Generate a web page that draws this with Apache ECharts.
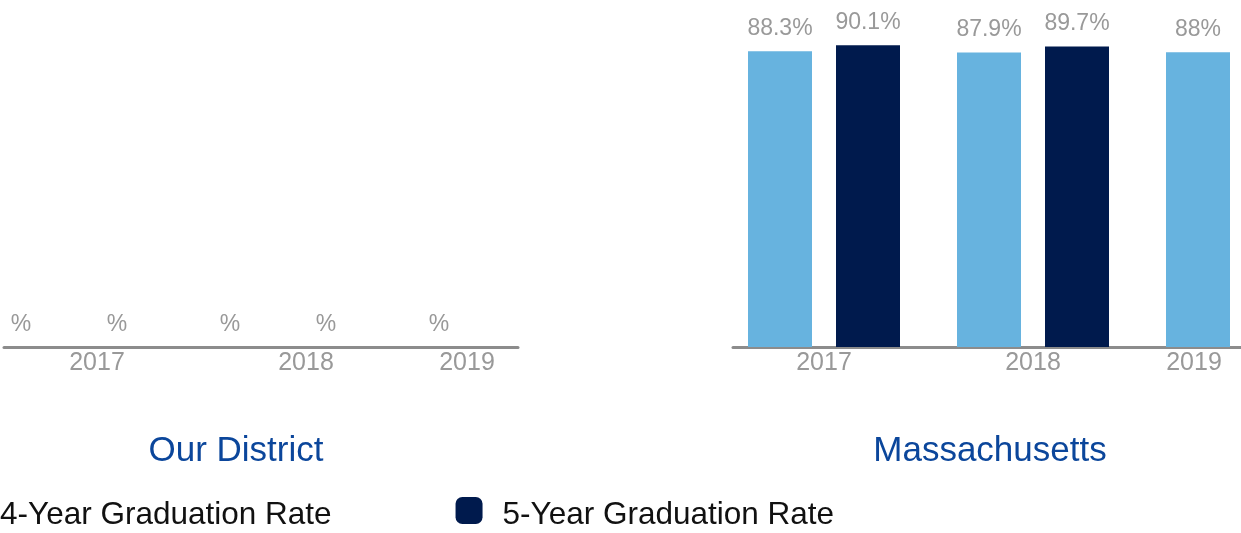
<!DOCTYPE html>
<html>
<head>
<meta charset="utf-8">
<style>html,body{margin:0;padding:0;background:#fff;}#chart{width:1241px;height:533px;}</style>
<script src="https://cdn.jsdelivr.net/npm/echarts@6/dist/echarts.min.js"></script>
</head>
<body>
<div id="chart"></div>
<script>
const years = ['2017', '2018', '2019'];
const seriesNames = ['4-Year Graduation Rate', '5-Year Graduation Rate'];
const chartTitles = ['Our District', 'Massachusetts'];
// '' = reported blank (drawn as "%"), null = not reported
const districtFourYear = ['', '', ''];
const districtFiveYear = ['', '', null];
const stateFourYear = [88.3, 87.9, 88];
const stateFiveYear = [90.1, 89.7, null];

const FONT = "'Liberation Sans', Arial, Helvetica, sans-serif";
const colors = ['#67b3df', '#001a4d'];

function toData(arr) {
  return arr.map(v => (v === null ? '-' : (v === '' ? 0 : v)));
}
function labelFmt(arr) {
  return p => {
    const raw = arr[p.dataIndex];
    return raw === null ? '' : raw + '%';
  };
}
function barSeries(idx, arr, gridIdx, offsetX) {
  return {
    type: 'bar',
    name: seriesNames[idx],
    xAxisIndex: gridIdx,
    yAxisIndex: gridIdx,
    data: toData(arr),
    barWidth: 64,
    barGap: '37.5%',
    itemStyle: { color: colors[idx] },
    label: {
      show: true,
      position: 'top',
      distance: 11,
      offset: [offsetX, 0],
      formatter: labelFmt(arr),
      color: '#999999',
      fontSize: 23,
      fontFamily: FONT
    }
  };
}
function dataXAxis(gridIdx) {
  return {
    type: 'category',
    gridIndex: gridIdx,
    data: years,
    axisLine: { show: false },
    axisTick: { show: false },
    axisLabel: {
      margin: 4,
      color: '#999999',
      fontSize: 25,
      fontFamily: FONT,
      formatter: (v, i) => (i === years.length - 1 ? '{last|' + v + '}' : v),
      rich: { last: { padding: [0, 96, 0, 0], color: '#999999', fontSize: 25, fontFamily: FONT } }
    }
  };
}
function lineXAxis(gridIdx) {
  return {
    type: 'category',
    gridIndex: gridIdx,
    data: [],
    axisLine: { show: true, lineStyle: { color: '#8c8c8c', width: 3 } },
    axisTick: { show: false },
    axisLabel: { show: false }
  };
}
function hiddenY(gridIdx) {
  return { type: 'value', gridIndex: gridIdx, min: 0, max: 100, show: false, splitLine: { show: false } };
}

const option = {
  animation: false,
  textStyle: { fontFamily: FONT },
  title: [
    { text: chartTitles[0], left: 231, textAlign: 'center', top: 429,
      textStyle: { color: '#0b469b', fontSize: 35, fontWeight: 'normal', fontFamily: FONT } },
    { text: chartTitles[1], left: 985, textAlign: 'center', top: 429,
      textStyle: { color: '#0b469b', fontSize: 35, fontWeight: 'normal', fontFamily: FONT } }
  ],
  legend: {
    data: seriesNames,
    left: -52,
    top: 492,
    icon: 'roundRect',
    itemWidth: 27,
    itemHeight: 27,
    itemGap: 124,
    formatter: '{t|{name}}',
    textStyle: {
      color: '#111111', fontSize: 31.5, fontFamily: FONT, padding: [0, 0, 0, 15],
      rich: { t: { color: '#111111', fontSize: 31.5, fontFamily: FONT, padding: [9, 0, 0, 0] } }
    }
  },
  grid: [
    { left: -7.5, width: 627, top: 12, height: 335, outerBoundsMode: 'none', containLabel: false },
    { left: 719.5, width: 627, top: 12, height: 335, outerBoundsMode: 'none', containLabel: false },
    { left: 4, width: 514, top: 12, height: 335, outerBoundsMode: 'none' },
    { left: 733, width: 530, top: 12, height: 335, outerBoundsMode: 'none' }
  ],
  xAxis: [dataXAxis(0), dataXAxis(1), lineXAxis(2), lineXAxis(3)],
  yAxis: [hiddenY(0), hiddenY(1), hiddenY(2), hiddenY(3)],
  series: [
    barSeries(0, districtFourYear, 0, -32),
    barSeries(1, districtFiveYear, 0, -24),
    barSeries(0, stateFourYear, 1, 0),
    barSeries(1, stateFiveYear, 1, 0)
  ]
};
const chart = echarts.init(document.getElementById('chart'));
chart.setOption(option);
</script>
</body>
</html>
